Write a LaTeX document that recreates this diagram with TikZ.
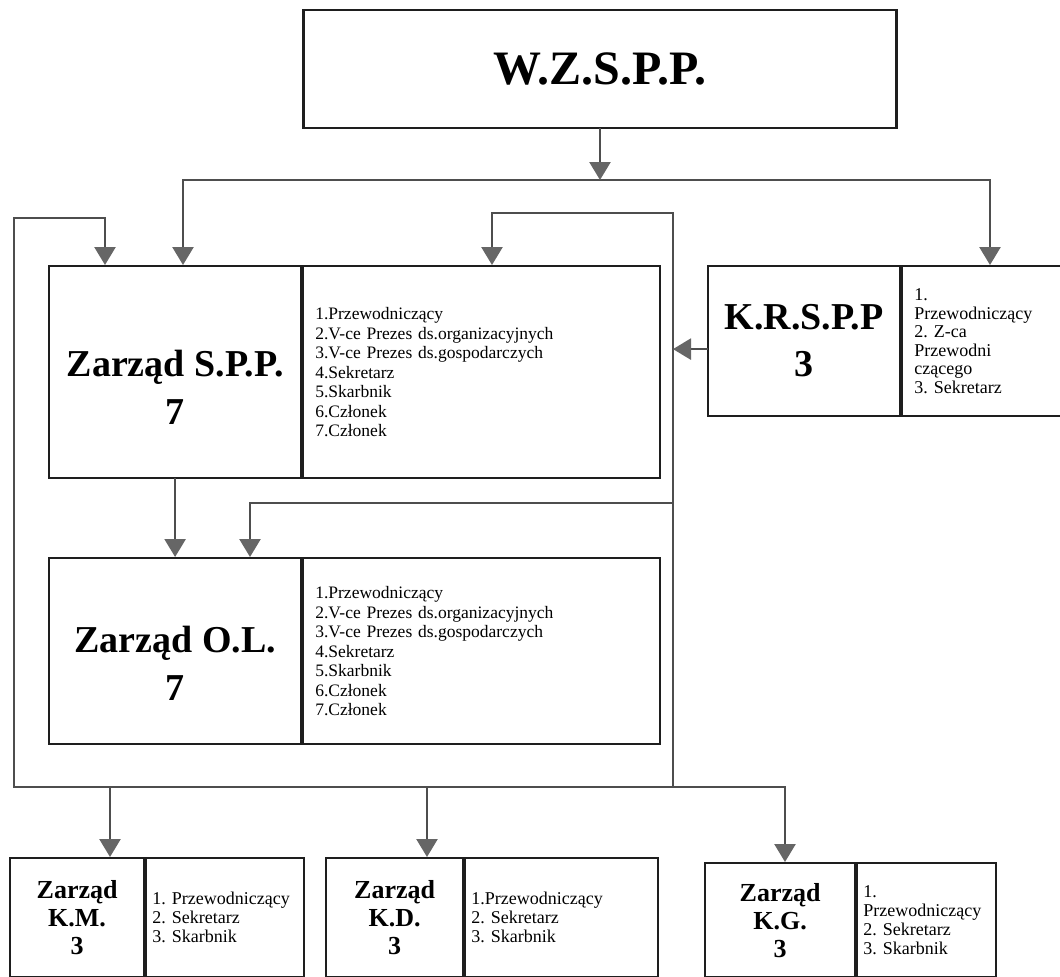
\documentclass[tikz,border=0pt]{standalone}
\usepackage{fontspec}
\setmainfont{Liberation Serif}
\usepackage{xcolor}
\usepackage{tikz}
\usetikzlibrary{arrows.meta}
\frenchspacing
\definecolor{ink}{HTML}{1E1E1E}
\definecolor{wirec}{HTML}{4E4E4E}
\definecolor{tipc}{HTML}{666666}
\tikzset{
  box/.style={draw=ink, line width=2.2pt, rectangle, inner sep=0pt, anchor=north west},
  ttl/.style={box, align=center, font=\bfseries\fontsize{38}{48}\selectfont},
  ttls/.style={box, align=center, font=\bfseries\fontsize{26}{28}\selectfont},
  lst/.style={box, align=left, inner xsep=12pt, font=\fontsize{17.5}{19.5}\selectfont},
  lsts/.style={lst, inner xsep=6pt, font=\fontsize{18}{19}\selectfont},
  wire/.style={draw=wirec, line width=2.6pt, line cap=rect},
  arr/.style={wire, -{Triangle[width=21pt,length=18pt,color=tipc]}},
}

\begin{document}
\begin{tikzpicture}[x=1pt,y=-1pt]
  \path[use as bounding box, fill=white] (0,0) rectangle (1060,977);
  % top
  \node[box, anchor=center, minimum width=593pt, minimum height=118pt,
        font=\bfseries\fontsize{48}{50}\selectfont] (wz) at (600,69) {W.Z.S.P.P.};
  % Zarzad S.P.P.
  \node[ttl, minimum width=252pt, minimum height=212pt] (spp) at (48,265) {\rule{0pt}{56pt}Zarząd S.P.P.\\7};
  \node[lst, text width=333pt, minimum height=212pt] (sppl) at (spp.north east)
    {1.Przewodniczący\\2.V-ce Prezes ds.organizacyjnych\\3.V-ce Prezes ds.gospodarczych\\4.Sekretarz\\5.Skarbnik\\6.Członek\\7.Członek};
  % K.R.S.P.P
  \node[ttl, minimum width=192pt, minimum height=150pt, font=\bfseries\fontsize{38}{47}\selectfont] (kr) at (707,265) {K.R.S.P.P\\3};
  \node[lst, text width=141pt, minimum height=150pt, font=\fontsize{18}{18.5}\selectfont] (krl) at (kr.north east)
    {1.\\Przewodniczący\\2. Z-ca\\Przewodni\\czącego\\3. Sekretarz};
  % Zarzad O.L.
  \node[ttl, minimum width=252pt, minimum height=186pt] (ol) at (48,557) {\rule{0pt}{50pt}Zarząd O.L.\\7};
  \node[lst, text width=333pt, minimum height=186pt] (oll) at (ol.north east)
    {1.Przewodniczący\\2.V-ce Prezes ds.organizacyjnych\\3.V-ce Prezes ds.gospodarczych\\4.Sekretarz\\5.Skarbnik\\6.Członek\\7.Członek};
  % bottom row
  \node[ttls, minimum width=134pt, minimum height=119pt] (km) at (9,857) {Zarząd\\K.M.\\3};
  \node[lsts, text width=146pt, minimum height=119pt] (kml) at (km.north east)
    {1. Przewodniczący\\2. Sekretarz\\3. Skarbnik};
  \node[ttls, minimum width=137pt, minimum height=119pt] (kd) at (325,857) {Zarząd\\K.D.\\3};
  \node[lsts, text width=181pt, minimum height=119pt] (kdl) at (kd.north east)
    {1.Przewodniczący\\2. Sekretarz\\3. Skarbnik};
  \node[ttls, minimum width=150pt, minimum height=114pt] (kg) at (704,862) {Zarząd\\K.G.\\3};
  \node[lsts, text width=127pt, minimum height=114pt] (kgl) at (kg.north east)
    {1.\\Przewodniczący\\2. Sekretarz\\3. Skarbnik};

  \coordinate (busL) at (183,180);
  \coordinate (busR) at (990,180);
  \coordinate (botL) at (14,787);
  \coordinate (botR) at (785,787);
  \coordinate (rail) at (673,213);
  \coordinate (inL) at (105,218);
  \coordinate (inR) at (492,213);
  \coordinate (inO) at (250,503);
  \coordinate (dKM) at (110,787);
  \coordinate (dKD) at (427,787);
  \coordinate (krIn) at ([yshift=-8pt]kr.west);

  % top bus
  \draw[wire] (busL) -- (busR);
  \draw[arr] (wz.south) -- (wz.south |- busL);
  \draw[arr] (busL) -- (busL |- spp.north);
  \draw[arr] (busR) -- (busR |- krl.north);
  % left loop
  \draw[arr] (botL) |- (inL) -- (inL |- spp.north);
  % right rail
  \draw[wire] (rail) -- (rail |- botL);
  \draw[arr] (rail) -- (inR) -- (inR |- sppl.north);
  \draw[arr] (rail |- inO) -- (inO) -- (inO |- ol.north);
  \draw[arr] (krIn) -- (krIn -| rail);
  \draw[arr] (spp.south) -- (spp.south |- ol.north);
  % bottom bus
  \draw[wire] (botL) -- (botR);
  \draw[arr] (dKM) -- (dKM |- km.north);
  \draw[arr] (dKD) -- (dKD |- kd.north);
  \draw[arr] (botR) -- (botR |- kg.north);
\end{tikzpicture}
\end{document}
